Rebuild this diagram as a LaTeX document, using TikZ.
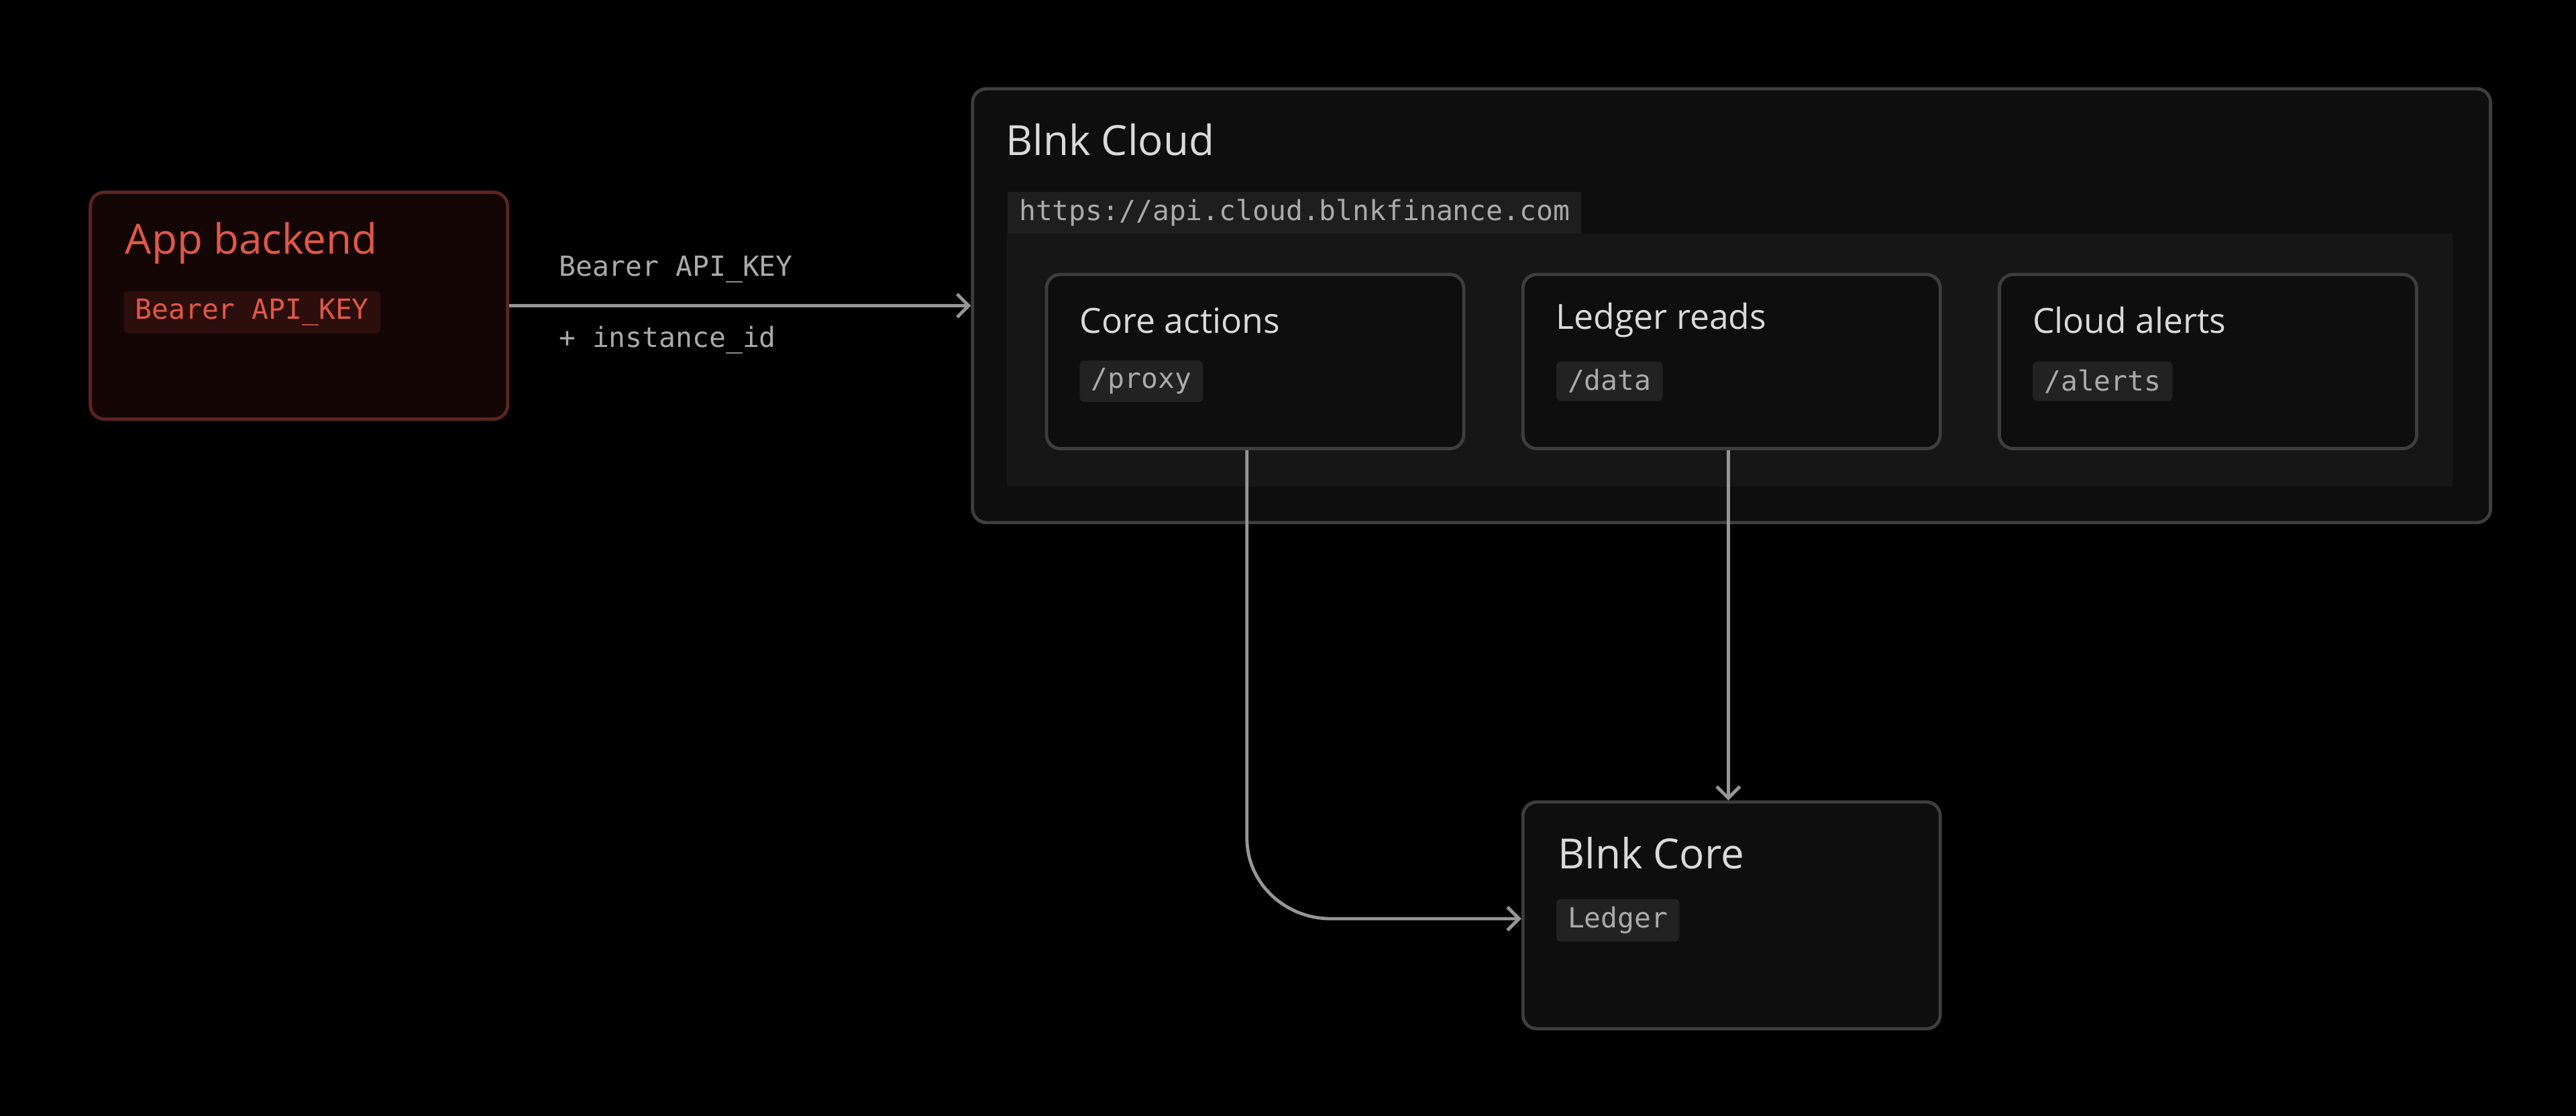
\documentclass[tikz,border=0pt]{standalone}
\usepackage{fontspec}
\setmainfont{Open Sans}
\setmonofont{DejaVu Sans Mono}
\usepackage{tikz}
\usetikzlibrary{arrows.meta,positioning}
\definecolor{myred}{RGB}{224,88,72}
\definecolor{redfill}{RGB}{20,6,5}
\definecolor{redline}{RGB}{92,36,32}
\definecolor{redchip}{RGB}{44,14,12}
\definecolor{boxfill}{RGB}{14,14,14}
\definecolor{boxline}{RGB}{62,62,62}
\definecolor{innerfill}{RGB}{22,22,22}
\definecolor{chipfill}{RGB}{34,34,34}
\definecolor{titlegrey}{RGB}{218,218,218}
\definecolor{codegrey}{RGB}{170,170,170}
\definecolor{wiregrey}{RGB}{150,150,150}
\tikzstyle{panel}=[draw=boxline,fill=boxfill,line width=1.4pt,rounded corners=6pt,anchor=north west,inner sep=0pt]
\tikzstyle{title}=[anchor=west,text=titlegrey,font=\fontsize{18}{20}\selectfont,inner sep=0pt]
\tikzstyle{subtitle}=[anchor=west,text=titlegrey,font=\fontsize{15}{17}\selectfont,inner sep=0pt]
\tikzstyle{chip}=[anchor=west,fill=chipfill,text=codegrey,rounded corners=2pt,font=\ttfamily\fontsize{12}{14}\selectfont,inner xsep=5pt,minimum height=0.6cm]
\tikzstyle{wire}=[draw=wiregrey,line width=1.4pt,-{Straight Barb[length=5pt,width=10pt]}]
\tikzstyle{label}=[anchor=west,text=codegrey,font=\ttfamily\fontsize{12}{14}\selectfont,inner sep=0pt]
\begin{document}
\begin{tikzpicture}[x=0.025cm,y=-0.025cm]
\fill[black] (0,0) rectangle (1568,679);
\useasboundingbox (0,0) rectangle (1568,679);

% client
\node [panel,draw=redline,fill=redfill,minimum width=254*0.025cm,minimum height=138*0.025cm] (app) at (54,116) {};
\node [title,text=myred] (apptitle) at (76,148) {App backend};
\node [chip,fill=redchip,text=myred] (appkey) at (75,190) {Bearer API\_KEY};

% cloud
\node [panel,minimum width=924*0.025cm,minimum height=264*0.025cm] (cloud) at (591,53) {};
\node [title] (cloudtitle) at (612,85) {Blnk Cloud};
\node [chip,fill=chipfill!80!boxfill,rounded corners=0pt,minimum height=0.62cm] (url) at (613,129.5) {https://api.cloud.blnkfinance.com};
\fill[innerfill] (613,142) rectangle (1493,296);

\foreach \x/\n/\t/\c in {636/core/Core actions/proxy,926/reads/Ledger reads/data,1216/alerts/Cloud alerts/alerts}{
  \node [panel,minimum width=254*0.025cm,minimum height=106*0.025cm] (\n) at (\x,166) {};
  \node [subtitle] (\n title) at (\x+21,195) {\t};
  \node [chip] (\n chip) at (\x+21,232) {/\c};
}

% core
\node [panel,minimum width=254*0.025cm,minimum height=138*0.025cm] (blnk) at (926,487) {};
\node [title] (blnktitle) at (948,519) {Blnk Core};
\node [chip] (ledger) at (947,560) {Ledger};

% connectors
\draw [wire] (app.east) -- (cloud.west |- app.east);
\node [label] (lab1) at (340,164) {Bearer API\_KEY};
\node [label] (lab2) at (340,207) {+ instance\_id};
\draw [wire] (core.south -| 759,0) -- (759,510) to[out=-90,in=180] (810,559) -- (blnk.north west |- 0,559);
\draw [wire] (reads.south -| 1052,0) -- (blnk.north -| 1052,0);
\end{tikzpicture}
\end{document}
